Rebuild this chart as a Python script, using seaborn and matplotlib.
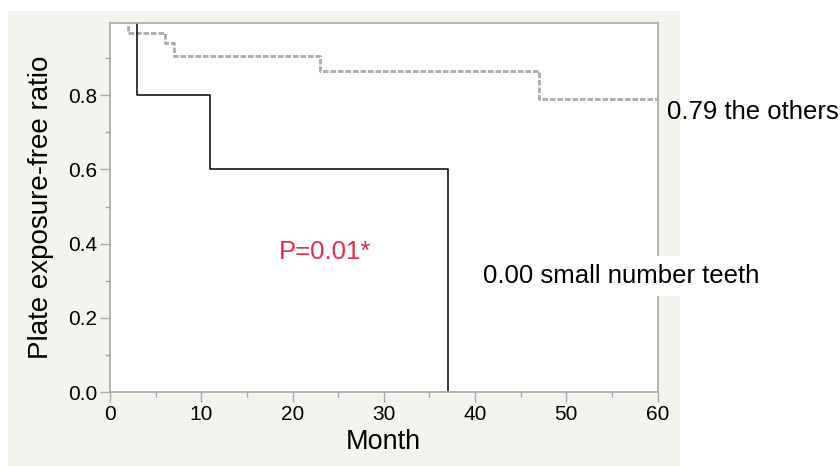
import numpy as np
import matplotlib.pyplot as plt
import pandas as pd
import seaborn as sns
from matplotlib.patches import Rectangle
from matplotlib.ticker import MultipleLocator

# Kaplan-Meier style step curves
others_month = [0, 2, 6, 7, 23, 47, 60]
others_ratio = [1.0, 0.968, 0.94, 0.907, 0.866, 0.79, 0.79]
small_month = [0, 3, 11, 37]
small_ratio = [1.0, 0.8, 0.6, 0.0]

others_label = "0.79 the others"
small_label = "0.00 small number teeth"
p_label = "P=0.01*"

others = pd.DataFrame({"Month": others_month, "ratio": others_ratio})
small = pd.DataFrame({"Month": small_month, "ratio": small_ratio})

sns.set_style("ticks")
plt.rcParams['font.family'] = ['Liberation Sans', 'DejaVu Sans']
plt.rcParams['text.color'] = 'black'
plt.rcParams['axes.labelcolor'] = 'black'

fig = plt.figure(figsize=(8.4, 4.66), dpi=100)
fig.add_artist(Rectangle((8/840, 0), 672/840, 455/466, transform=fig.transFigure,
                         facecolor='#f4f4ef', edgecolor='none', zorder=-5))
ax = fig.add_axes([110/840, 74/466, 547.5/840, 369/466])
ax.set_facecolor('white')

sns.lineplot(data=others, x="Month", y="ratio", ax=ax, estimator=None,
             drawstyle='steps-post', color='#ababab', linewidth=2.0,
             linestyle=(0, (2, 0.7)))
sns.lineplot(data=small, x="Month", y="ratio", ax=ax, estimator=None,
             drawstyle='steps-post', color='black', linewidth=1.1)

ax.set_xlim(0, 60)
ax.set_ylim(0, 0.995)
ax.xaxis.set_major_locator(MultipleLocator(10))
ax.xaxis.set_minor_locator(MultipleLocator(5))
ax.yaxis.set_major_locator(MultipleLocator(0.2))
ax.yaxis.set_minor_locator(MultipleLocator(0.1))
ax.yaxis.set_major_formatter(plt.FuncFormatter(lambda v, p: f"{v:.1f}"))

for s in ax.spines.values():
    s.set_color('#a8a8a8')
    s.set_linewidth(1.2)
ax.tick_params(which='major', direction='out', length=7, width=1, color='#a8a8a8',
               labelsize=15, labelcolor='black', pad=2)
ax.tick_params(which='minor', direction='out', length=3.5, width=1, color='#a8a8a8')
ax.tick_params(top=False, right=False, which='both')

ax.set_xlabel("Month", fontsize=19.5, labelpad=4)
ax.set_ylabel("Plate exposure-free ratio", fontsize=20, labelpad=10)

ax.text(61.0, 0.755, others_label, fontsize=18.5, va='center', ha='left', clip_on=False)
ax.text(40.9, 0.313, small_label, fontsize=18.5, va='center', ha='left', clip_on=False,
        bbox=dict(facecolor='white', edgecolor='none', pad=6))
ax.text(18.5, 0.377, p_label, fontsize=18.5, va='center', ha='left', color='#e8294b')

fig.savefig("out.png", dpi=100, facecolor='white')
